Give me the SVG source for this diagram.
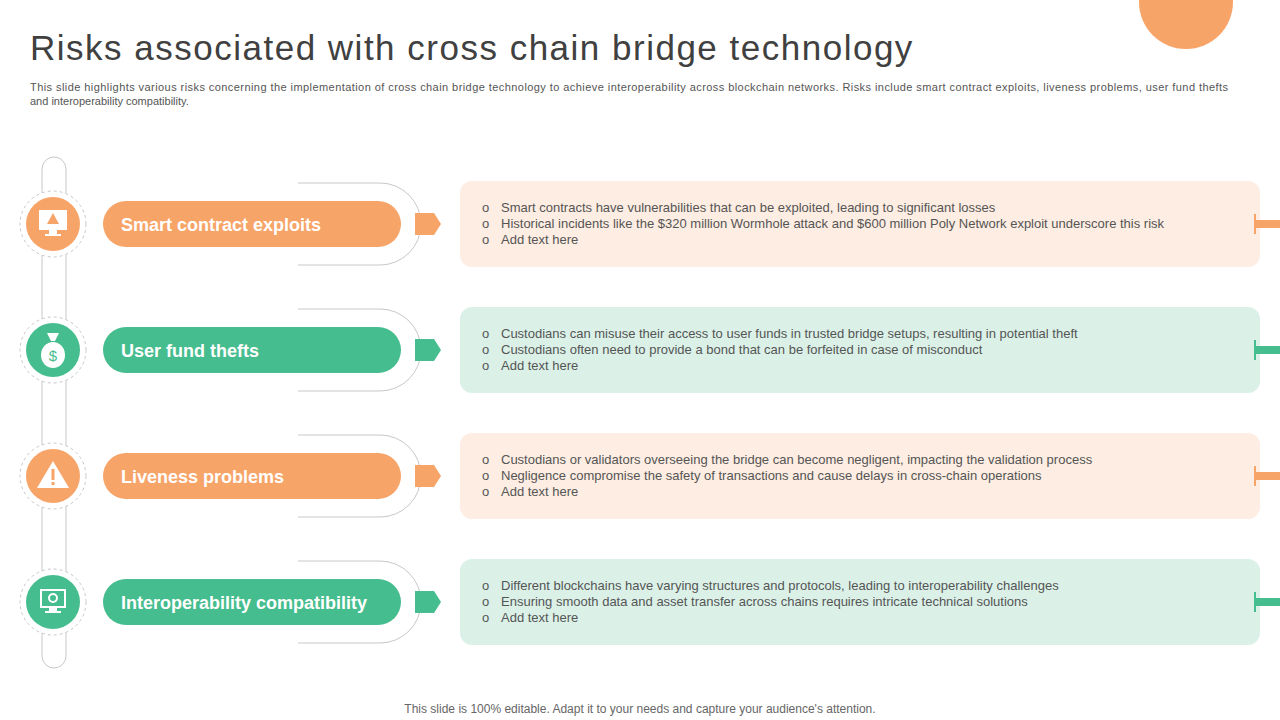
<svg xmlns="http://www.w3.org/2000/svg" width="1280" height="720" viewBox="0 0 1280 720">
<style>
.t{font-family:"Liberation Sans",Arial,sans-serif}
.lab{font-family:"Liberation Sans",Arial,sans-serif;font-weight:bold;font-size:18px;fill:#fff}
.b{font-family:"Liberation Sans",Arial,sans-serif;font-size:13px;fill:#555}
.br{fill:none;stroke:#c8c8c8;stroke-width:1}
.o{fill:#F7A469}.g{fill:#45BD8E}.lo{fill:#FDEDE2}.lg{fill:#DBF1E8}
.ring{fill:#fff;stroke:#c8c8c8;stroke-dasharray:3 3}
</style>
<rect width="1280" height="720" fill="#fff"/>
<circle cx="1186" cy="2" r="47" fill="#F7A469"/>
<text x="30" y="60" class="t" font-size="35" fill="#404040" letter-spacing="1.5">Risks associated with cross chain bridge technology</text>
<text class="t" font-size="11" fill="#555"><tspan x="30" y="91" textLength="1198" lengthAdjust="spacing">This slide highlights various risks concerning the implementation of cross chain bridge technology to achieve interoperability across blockchain networks. Risks include smart contract exploits, liveness problems, user fund thefts</tspan><tspan x="30" y="105">and interoperability compatibility.</tspan></text>
<rect x="42" y="157" width="24" height="511" rx="12" fill="#fff" stroke="#c8c8c8"/>
<g id="connectors">
<path class="br" d="M298 183H380A41 41 0 0 1 380 265H298"/>
<path class="br" d="M298 309H380A41 41 0 0 1 380 391H298"/>
<path class="br" d="M298 435H380A41 41 0 0 1 380 517H298"/>
<path class="br" d="M298 561H380A41 41 0 0 1 380 643H298"/>
</g>
<g id="n1">
<circle class="ring" cx="53" cy="224" r="33"/><circle class="o" cx="53" cy="224" r="27"/>
<rect x="39" y="210" width="28" height="20" fill="#fff"/><rect x="49" y="230" width="8" height="4" fill="#fff"/><rect x="45" y="234" width="16" height="2" fill="#fff"/><path d="M53 213L59 224H47Z" fill="#F7A469"/>
<rect class="o" x="103" y="201" width="298" height="46" rx="23"/>
<text x="121" y="231" class="lab">Smart contract exploits</text>
<path class="o" d="M415 213H434L441 224L434 235H415Z"/>
<rect class="lo" x="460" y="181" width="800" height="86" rx="12"/>
<rect class="o" x="1256" y="220" width="24" height="8"/><rect class="o" x="1254" y="214" width="2" height="20"/>
<text class="b"><tspan x="482" y="212">o</tspan><tspan x="501" y="212">Smart contracts have vulnerabilities  that can be exploited, leading to significant losses</tspan><tspan x="482" y="228">o</tspan><tspan x="501" y="228">Historical incidents like the $320 million Wormhole attack and $600 million Poly Network exploit underscore this risk</tspan><tspan x="482" y="244">o</tspan><tspan x="501" y="244">Add text here</tspan></text>
</g>
<g id="n2">
<circle class="ring" cx="53" cy="350" r="33"/><circle class="g" cx="53" cy="350" r="27"/>
<ellipse cx="53" cy="355" rx="12" ry="13" fill="#fff"/><path d="M47 333H59L55 341H51Z" fill="#fff"/>
<text x="53" y="361" class="t" font-size="15" text-anchor="middle" fill="#45BD8E">$</text>
<rect class="g" x="103" y="327" width="298" height="46" rx="23"/>
<text x="121" y="357" class="lab">User fund thefts</text>
<path class="g" d="M415 339H434L441 350L434 361H415Z"/>
<rect class="lg" x="460" y="307" width="800" height="86" rx="12"/>
<rect class="g" x="1256" y="346" width="24" height="8"/><rect class="g" x="1254" y="340" width="2" height="20"/>
<text class="b"><tspan x="482" y="338">o</tspan><tspan x="501" y="338">Custodians can misuse their access to user funds in trusted bridge setups, resulting in potential theft</tspan><tspan x="482" y="354">o</tspan><tspan x="501" y="354">Custodians often need to provide  a bond that can be forfeited in case of misconduct</tspan><tspan x="482" y="370">o</tspan><tspan x="501" y="370">Add text here</tspan></text>
</g>
<g id="n3">
<circle class="ring" cx="53" cy="476" r="33"/><circle class="o" cx="53" cy="476" r="27"/>
<path d="M53 461L69 488H37Z" fill="#fff"/><rect x="51.5" y="469" width="3" height="11" fill="#F7A469"/><rect x="51.5" y="482" width="3" height="3" fill="#F7A469"/>
<rect class="o" x="103" y="453" width="298" height="46" rx="23"/>
<text x="121" y="483" class="lab">Liveness problems</text>
<path class="o" d="M415 465H434L441 476L434 487H415Z"/>
<rect class="lo" x="460" y="433" width="800" height="86" rx="12"/>
<rect class="o" x="1256" y="472" width="24" height="8"/><rect class="o" x="1254" y="466" width="2" height="20"/>
<text class="b"><tspan x="482" y="464">o</tspan><tspan x="501" y="464">Custodians or validators  overseeing  the bridge can become negligent,  impacting the validation  process</tspan><tspan x="482" y="480">o</tspan><tspan x="501" y="480">Negligence compromise the safety of transactions and cause delays in cross-chain operations</tspan><tspan x="482" y="496">o</tspan><tspan x="501" y="496">Add text here</tspan></text>
</g>
<g id="n4">
<circle class="ring" cx="53" cy="602" r="33"/><circle class="g" cx="53" cy="602" r="27"/>
<rect x="41" y="590" width="24" height="17" fill="none" stroke="#fff" stroke-width="2"/><rect x="49" y="607" width="8" height="4" fill="#fff"/><rect x="45" y="611" width="16" height="2" fill="#fff"/><circle cx="53" cy="598" r="4" fill="none" stroke="#fff" stroke-width="2"/>
<rect class="g" x="103" y="579" width="298" height="46" rx="23"/>
<text x="121" y="609" class="lab">Interoperability compatibility</text>
<path class="g" d="M415 591H434L441 602L434 613H415Z"/>
<rect class="lg" x="460" y="559" width="800" height="86" rx="12"/>
<rect class="g" x="1256" y="598" width="24" height="8"/><rect class="g" x="1254" y="592" width="2" height="20"/>
<text class="b"><tspan x="482" y="590">o</tspan><tspan x="501" y="590">Different  blockchains have varying  structures and protocols, leading to interoperability  challenges</tspan><tspan x="482" y="606">o</tspan><tspan x="501" y="606">Ensuring smooth data and asset transfer across chains requires intricate technical solutions</tspan><tspan x="482" y="622">o</tspan><tspan x="501" y="622">Add text here</tspan></text>
</g>
<text x="640" y="713" class="t" font-size="12" fill="#666" text-anchor="middle">This slide is 100% editable. Adapt it to your needs and capture your audience's attention.</text>
</svg>
